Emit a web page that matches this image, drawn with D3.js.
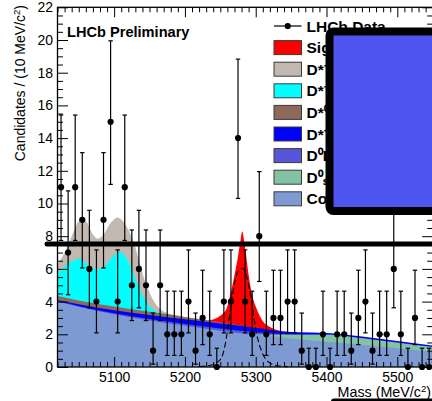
<!DOCTYPE html>
<html>
<head>
<meta charset="utf-8">
<script src="https://cdn.jsdelivr.net/npm/d3@7"></script>
<style>
  body { margin: 0; background: #fff; }
  svg { display: block; }
</style>
</head>
<body>
<svg id="chart" width="432" height="401"></svg>
<script>
// ---- Data: candidates per 10 MeV/c^2 bin ----
const binCentres = [5025, 5035, 5045, 5055, 5065, 5075, 5085, 5095, 5105, 5115,
                    5125, 5135, 5145, 5155, 5165, 5175, 5185, 5195, 5205, 5215,
                    5225, 5235, 5245, 5255, 5265, 5275, 5285, 5295, 5305, 5315,
                    5325, 5335, 5345, 5355, 5365, 5375, 5385, 5395, 5405, 5415,
                    5425, 5435, 5445, 5455, 5465, 5475, 5485, 5495, 5505, 5515,
                    5525, 5535, 5545];
const counts = [11, 7, 11, 9, 6, 4, 9, 15, 4, 11,
                5, 6, 5, 1, 5, 2, 2, 2, 4, 1,
                3, 2, 0, 4, 4, 14, 4, 2, 8, 2,
                3, 3, 4, 4, 1, 0, 0, 2, 0, 2,
                2, 1, 3, 4, 1, 2, 2, 6, 2, 0,
                3, 0, 0];

// 68% Poisson intervals for a count n (lower, upper)
const poissonLo = {0: 0, 1: 0.173, 2: 0.708, 3: 1.367, 4: 2.086, 5: 2.840, 6: 3.620,
                   7: 4.419, 8: 5.232, 9: 6.057, 11: 7.74, 14: 10.31, 15: 11.17};
const poissonHi = {0: 1.148, 1: 3.300, 2: 4.638, 3: 5.918, 4: 7.163, 5: 8.382, 6: 9.584,
                   7: 10.77, 8: 11.95, 9: 13.11, 11: 15.41, 14: 18.83, 15: 19.95};

// ---- Fit components: upper edge of the stack through each component [mass, value] ----
const signalTop = [[5225,2.8],[5235,2.86],[5247,3.05],[5254,3.28],[5259,3.6],[5265,4.6],
  [5270,5.63],[5274.5,6.65],[5278,7.6],[5281,8.28],[5284,7.6],[5287,6.65],[5290,5.63],
  [5294,4.6],[5301,3.59],[5306,3.1],[5310,2.8],[5316,2.55],[5322,2.4],[5330,2.27],[5345,2.12]];
const dStarStarTop = [[5020,6.3],[5030,7.0],[5040,8.0],[5048,8.8],[5055,9.1],[5062,8.8],
  [5070,8.1],[5077,7.85],[5085,8.1],[5095,8.8],[5105,9.15],[5112,8.95],[5120,8.4],
  [5127,7.7],[5134,6.7],[5141,5.6],[5148,4.75],[5155,4.1],[5165,3.55],[5175,3.3],
  [5190,3.15],[5210,2.95]];
const dStarTop = [[5020,5.7],[5030,6.15],[5040,6.45],[5050,6.6],[5058,6.45],[5066,6.1],
  [5075,5.98],[5083,6.05],[5092,6.45],[5100,6.85],[5106,7.05],[5112,6.95],[5120,6.45],
  [5126,5.85],[5132,5.15],[5141,4.3],[5148,3.8],[5155,3.5],[5165,3.33],[5180,3.18],
  [5200,3.02]];
const dStar0Top = [[5020,4.34],[5050,4.07],[5100,3.7],[5150,3.38],[5200,3.06],
  [5240,2.8],[5270,2.6],[5300,2.4]];
const dStarPlusTop = [[5020,4.1],[5050,3.84],[5100,3.47],[5150,3.18],[5200,2.92],[5250,2.66],
  [5300,2.4],[5330,2.22],[5360,2.12],[5400,2.08],[5450,1.86],[5500,1.59],[5550,1.31]];
const d0aTop = [[5020,4.03],[5050,3.72],[5100,3.28],[5150,2.93],[5200,2.63],[5250,2.35],
  [5300,2.12],[5330,2.03],[5360,1.99],[5400,1.99],[5450,1.77],[5500,1.5],[5550,1.23]];
const d0bTop = [[5280,2.04],[5300,2.0],[5330,1.97],[5360,1.97],[5400,1.98],[5450,1.76],
  [5500,1.49],[5550,1.22]];
const combTop = [[5020,4.0],[5050,3.68],[5100,3.22],[5150,2.85],[5200,2.52],[5250,2.22],
  [5300,1.97],[5350,1.75],[5400,1.55],[5450,1.36],[5500,1.15],[5550,0.93]];

// signal core drawn on its own
const signalCore = [[5220,0.03],[5230,0.06],[5240,0.15],[5246,0.3],[5252,0.6],[5257,1.4],
  [5261,2.5],[5265,3.7],[5268,4.6],[5273,5.63],[5277,5.95],[5281,6.04],[5285,5.85],
  [5289,5.2],[5292,4.6],[5296,3.5],[5299,2.57],[5303,1.7],[5308,1.0],[5313,0.55],
  [5320,0.25],[5330,0.08],[5345,0.02]];

// ---- Axis ticks and legend ----
const xMajor = [5100, 5200, 5300, 5400, 5500];
const yMajor = [0, 2, 4, 6, 8, 10, 12, 14, 16, 18, 20, 22];
const legendLabels = ["LHCb Data", "Signal", "D*⁻π⁺ (B⁰ₛ)", "D*⁻K⁺ (B⁰)", "D*⁰π⁺",
                      "D*⁺K⁻", "D⁰K⁺π⁻", "D⁰ₛπ⁺", "Combinatorial"];
const legendColors = [null, "#ff0000", "#c1b9b1", "#00ffff", "#8c6a5b",
                      "#0000ff", "#5856d8", "#82c3a3", "#7d9bd2"];

// ---- Scales ----
const padL = 57.5, padR = 432.7, padT = 7.3, padB = 367;
const x = d3.scaleLinear().domain([5020, 5550]).range([padL, padR]);
const y = d3.scaleLinear().domain([0, 22]).range([padB, padT]);

const svg = d3.select("#chart");
const FONT = "'Liberation Sans', Arial, Helvetica, sans-serif";

svg.append("defs").append("clipPath").attr("id", "plotArea")
  .append("rect").attr("x", padL).attr("y", padT)
  .attr("width", padR - padL).attr("height", padB - padT);

// ---- Stacked fit components (painted from the outermost edge inward) ----
const area = d3.area()
  .x(d => x(d[0])).y0(y(0)).y1(d => y(d[1]))
  .curve(d3.curveMonotoneX);

const layers = [
  [signalTop, legendColors[1]],
  [dStarStarTop, legendColors[2]],
  [dStarTop, legendColors[3]],
  [dStar0Top, legendColors[4]],
  [dStarPlusTop, legendColors[5]],
  [d0aTop, legendColors[6]],
  [d0bTop, legendColors[7]],
  [combTop, legendColors[8]]
];
const gAreas = svg.append("g").attr("clip-path", "url(#plotArea)");
layers.forEach(([data, color]) => {
  gAreas.append("path").datum(data).attr("d", area).attr("fill", color);
});

// ---- Frame and ticks ----
function styleAxis(g, withText) {
  g.select(".domain").remove();
  g.selectAll("line").attr("stroke", "#000").attr("stroke-width", 1);
  g.attr("font-family", FONT).attr("font-size", 14);
  if (withText) g.selectAll("text").attr("fill", "#000");
}
const yMinor = d3.range(0, 22.001, 0.5).filter(v => v % 2 !== 0);
const xMinor = d3.range(5020, 5551, 10).filter(v => v % 100 !== 0);

// bottom
svg.append("g").attr("transform", `translate(0,${padB})`)
  .call(d3.axisBottom(x).tickValues(xMajor).tickFormat(d3.format("d"))
    .tickSizeInner(-10).tickSizeOuter(0).tickPadding(5))
  .call(g => styleAxis(g, true));
svg.append("g").attr("transform", `translate(0,${padB})`)
  .call(d3.axisBottom(x).tickValues(xMinor).tickFormat("").tickSizeInner(-5).tickSizeOuter(0))
  .call(g => styleAxis(g, false));
// top
svg.append("g").attr("transform", `translate(0,${padT})`)
  .call(d3.axisTop(x).tickValues(xMajor).tickFormat("").tickSizeInner(-10).tickSizeOuter(0))
  .call(g => styleAxis(g, false));
svg.append("g").attr("transform", `translate(0,${padT})`)
  .call(d3.axisTop(x).tickValues(xMinor).tickFormat("").tickSizeInner(-5).tickSizeOuter(0))
  .call(g => styleAxis(g, false));
// left
svg.append("g").attr("transform", `translate(${padL},0)`)
  .call(d3.axisLeft(y).tickValues(yMajor).tickFormat(d3.format("d"))
    .tickSizeInner(-10.5).tickSizeOuter(0).tickPadding(4.5))
  .call(g => styleAxis(g, true));
svg.append("g").attr("transform", `translate(${padL},0)`)
  .call(d3.axisLeft(y).tickValues(yMinor).tickFormat("").tickSizeInner(-5.5).tickSizeOuter(0))
  .call(g => styleAxis(g, false));
// right
svg.append("g").attr("transform", `translate(${padR},0)`)
  .call(d3.axisRight(y).tickValues(yMajor).tickFormat("").tickSizeInner(-10.5).tickSizeOuter(0))
  .call(g => styleAxis(g, false));
svg.append("g").attr("transform", `translate(${padR},0)`)
  .call(d3.axisRight(y).tickValues(yMinor).tickFormat("").tickSizeInner(-5.5).tickSizeOuter(0))
  .call(g => styleAxis(g, false));

svg.append("rect").attr("x", padL).attr("y", padT)
  .attr("width", padR - padL).attr("height", padB - padT)
  .attr("fill", "none").attr("stroke", "#000").attr("stroke-width", 1.3);

// ---- Signal core (dashed) ----
svg.append("path").datum(signalCore)
  .attr("d", d3.line().x(d => x(d[0])).y(d => y(d[1])).curve(d3.curveMonotoneX))
  .attr("fill", "none").attr("stroke", "#000").attr("stroke-width", 1.1)
  .attr("stroke-dasharray", "6,3");

// ---- Data points with Poisson error bars ----
const gPts = svg.append("g");
const cap = 2.2;
binCentres.forEach((m, i) => {
  const n = counts[i];
  const cx = x(m);
  const lo = y(poissonLo[n]), hi = y(poissonHi[n]);
  gPts.append("line").attr("x1", cx).attr("x2", cx).attr("y1", lo).attr("y2", hi)
    .attr("stroke", "#000").attr("stroke-width", 1.2);
  [lo, hi].forEach(v => gPts.append("line")
    .attr("x1", cx - cap).attr("x2", cx + cap).attr("y1", v).attr("y2", v)
    .attr("stroke", "#000").attr("stroke-width", 1.2));
  gPts.append("circle").attr("cx", cx).attr("cy", y(n)).attr("r", 3.1).attr("fill", "#000");
});

// ---- Labels ----
svg.append("text").attr("x", 67).attr("y", 37)
  .attr("font-family", FONT).attr("font-size", 14.6).attr("font-weight", "bold")
  .text("LHCb Preliminary");

const yTitle = svg.append("text")
  .attr("transform", "translate(25,5) rotate(-90)")
  .attr("text-anchor", "end").attr("font-family", FONT).attr("font-size", 14);
yTitle.append("tspan").text("Candidates / (10 MeV/c");
yTitle.append("tspan").attr("baseline-shift", "super").attr("font-size", 9.5).text("2");
yTitle.append("tspan").text(")");

const xTitle = svg.append("text").attr("x", 431).attr("y", 397)
  .attr("text-anchor", "end").attr("font-family", FONT).attr("font-size", 14.3);
xTitle.append("tspan").text("Mass (MeV/c");
xTitle.append("tspan").attr("baseline-shift", "super").attr("font-size", 9.5).text("2");
xTitle.append("tspan").text(")");

// ---- Legend ----
const gLeg = svg.append("g").attr("font-family", FONT).attr("font-size", 15.5)
  .attr("font-weight", "bold");
const rowY0 = 26, rowStep = 21.6, boxX = 274, boxW = 27.5, boxH = 14, textX = 306.5;
legendLabels.forEach((label, i) => {
  const cy = rowY0 + i * rowStep;
  if (i === 0) {
    gLeg.append("line").attr("x1", boxX).attr("x2", boxX + boxW).attr("y1", cy).attr("y2", cy)
      .attr("stroke", "#000").attr("stroke-width", 1.2);
    gLeg.append("line").attr("x1", boxX + boxW / 2).attr("x2", boxX + boxW / 2)
      .attr("y1", cy - 2.5).attr("y2", cy + 2.5).attr("stroke", "#000").attr("stroke-width", 1.2);
    gLeg.append("circle").attr("cx", boxX + boxW / 2).attr("cy", cy).attr("r", 3.1).attr("fill", "#000");
  } else {
    gLeg.append("rect").attr("x", boxX).attr("y", cy - boxH / 2)
      .attr("width", boxW).attr("height", boxH)
      .attr("fill", legendColors[i]).attr("stroke", "#3a3a3a").attr("stroke-width", 1);
  }
  gLeg.append("text").attr("x", textX).attr("y", cy + 5.5).text(label);
});

// ---- Overlaid marks ----
svg.append("line").attr("x1", 47).attr("x2", 445).attr("y1", 243.9).attr("y2", 243.9)
  .attr("stroke", "#000").attr("stroke-width", 5).attr("stroke-linecap", "round");
svg.append("line").attr("x1", 334).attr("x2", 445).attr("y1", 401.5).attr("y2", 401.5)
  .attr("stroke", "#000").attr("stroke-width", 6).attr("stroke-linecap", "round");
svg.append("rect").attr("x", 329.5).attr("y", 31.5).attr("width", 140).attr("height", 179.5)
  .attr("rx", 4).attr("fill", "#4f56f0").attr("stroke", "#000").attr("stroke-width", 8)
  .attr("stroke-linejoin", "round");
</script>
</body>
</html>
